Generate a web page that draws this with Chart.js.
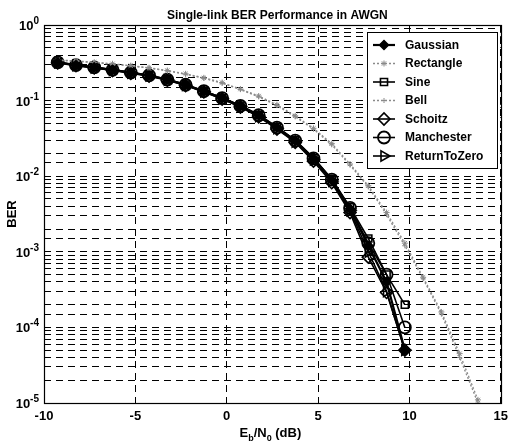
<!DOCTYPE html>
<html><head><meta charset="utf-8">
<script src="https://cdn.jsdelivr.net/npm/chart.js@4.4.0/dist/chart.umd.min.js"></script>
<style>html,body{margin:0;padding:0;background:#fff}</style>
</head><body>
<canvas id="c" width="514" height="444"></canvas>
<script>
// ---- data ----
const ebn0 = [-9.25,-8.25,-7.25,-6.25,-5.25,-4.25,-3.25,-2.25,-1.25,-0.25,0.75,1.75,2.75,3.75,4.75,5.75,6.75,7.75,8.75,9.75];
const ebn0Ext = [-9.25,-8.25,-7.25,-6.25,-5.25,-4.25,-3.25,-2.25,-1.25,-0.25,0.75,1.75,2.75,3.75,4.75,5.75,6.75,7.75,8.75,9.75,10.75,11.75,12.75,13.75];
const gaussian   = [0.32,0.295,0.275,0.255,0.235,0.215,0.19,0.162,0.133,0.108,0.085,0.064,0.044,0.0295,0.0172,0.0089,0.0037,0.0012,0.0004,0.00005];
const rectangle  = [0.345,0.335,0.322,0.307,0.29,0.272,0.25,0.226,0.2,0.173,0.142,0.115,0.088,0.063,0.043,0.027,0.0145,0.0075,0.0033,0.0013,0.00046,0.00016,0.000045,0.000011];
const sine       = [0.322,0.297,0.277,0.256,0.236,0.216,0.191,0.163,0.134,0.109,0.086,0.065,0.045,0.03,0.0175,0.0092,0.0039,0.0015,0.0005,0.0002];
const bell       = [0.34,0.33,0.318,0.303,0.287,0.269,0.247,0.223,0.197,0.17,0.14,0.112,0.086,0.061,0.042,0.026,0.014,0.0072,0.0031,0.0012,0.00044,0.00015,0.00004,0.00001];
const schoitz    = [0.315,0.29,0.27,0.25,0.23,0.21,0.186,0.158,0.13,0.105,0.082,0.061,0.042,0.028,0.0158,0.0082,0.0033,0.00085,0.00029,0.00005];
const manchester = [0.32,0.295,0.275,0.255,0.235,0.215,0.19,0.162,0.133,0.108,0.085,0.064,0.044,0.0295,0.0172,0.009,0.0038,0.0013,0.0005,0.0001];
const returnToZero = [0.318,0.293,0.273,0.253,0.233,0.213,0.188,0.16,0.131,0.106,0.083,0.062,0.043,0.0285,0.0165,0.0086,0.0035,0.001,0.0003,0.00005];
const xTicks = [-10,-5,0,5,10,15];
const yMajorExps = [0,-1,-2,-3,-4,-5];
const seriesNames = ['Gaussian','Rectangle','Sine','Bell','Schoitz','Manchester','ReturnToZero'];

const FONT = "'Liberation Sans', Arial, sans-serif";
function pts(xs, ys){ return ys.map((v,i)=>({x:xs[i], y:v})); }
const NONE = 'rgba(0,0,0,0)';
const GRAY = '#8a8a8a';

const datasets = [
  {label:seriesNames[0], data:pts(ebn0,gaussian), borderColor:'#000', borderWidth:2.2, pointStyle:'rectRot', pointRadius:4.5, pointBorderWidth:1.5, pointBorderColor:'#000', pointBackgroundColor:'#000'},
  {label:seriesNames[1], data:pts(ebn0Ext,rectangle), borderColor:GRAY, borderWidth:1.3, borderDash:[2,2], pointStyle:'star', pointRadius:3, pointBorderWidth:1, pointBorderColor:GRAY, pointBackgroundColor:NONE},
  {label:seriesNames[2], data:pts(ebn0,sine), borderColor:'#000', borderWidth:1.6, pointStyle:'rect', pointRadius:5, pointBorderWidth:1.6, pointBorderColor:'#000', pointBackgroundColor:NONE},
  {label:seriesNames[3], data:pts(ebn0Ext,bell), borderColor:GRAY, borderWidth:1.3, borderDash:[2,2], pointStyle:'cross', pointRadius:2.5, pointBorderWidth:1, pointBorderColor:GRAY, pointBackgroundColor:NONE},
  {label:seriesNames[4], data:pts(ebn0,schoitz), borderColor:'#000', borderWidth:1.6, pointStyle:'rectRot', pointRadius:6, pointBorderWidth:1.6, pointBorderColor:'#000', pointBackgroundColor:NONE},
  {label:seriesNames[5], data:pts(ebn0,manchester), borderColor:'#000', borderWidth:1.6, pointStyle:'circle', pointRadius:6, pointBorderWidth:1.8, pointBorderColor:'#000', pointBackgroundColor:NONE},
  {label:seriesNames[6], data:pts(ebn0,returnToZero), borderColor:'#000', borderWidth:1.6, pointStyle:'triangle', pointRotation:90, pointRadius:6, pointBorderWidth:1.6, pointBorderColor:'#000', pointBackgroundColor:NONE}
];
datasets.forEach(d=>{d.tension=0; d.fill=false; d.showLine=true;});

function drawMarker(ctx, ds, x, y){
  const opts = {pointStyle: ds.pointStyle, rotation: ds.pointRotation||0, radius: ds.pointRadius, borderWidth: ds.pointBorderWidth};
  ctx.save();
  ctx.strokeStyle = ds.pointBorderColor; ctx.fillStyle = ds.pointBackgroundColor; ctx.lineWidth = ds.pointBorderWidth;
  ctx.setLineDash([]);
  Chart.helpers.drawPoint(ctx, opts, x, y);
  ctx.restore();
}

const decor = {
  id:'decor',
  afterDraw(chart){
    const ctx = chart.ctx, a = chart.chartArea;
    ctx.save();
    // frame
    ctx.strokeStyle = '#000'; ctx.lineWidth = 1.2; ctx.setLineDash([]);
    ctx.strokeRect(Math.round(a.left)+0.5, Math.round(a.top)+0.5, Math.round(a.right-a.left), Math.round(a.bottom-a.top));
    // title
    ctx.fillStyle = '#000';
    ctx.font = 'bold 12px ' + FONT; ctx.textAlign = 'center'; ctx.textBaseline = 'alphabetic';
    ctx.fillText('Single-link BER Performance in AWGN', (a.left + a.right)/2 + 5, 19);
    // y tick labels: 10 with superscript exponent
    const ys = chart.scales.y;
    yMajorExps.forEach(e=>{
      const py = ys.getPixelForValue(Math.pow(10, e));
      const exp = String(e);
      ctx.font = 'bold 10px ' + FONT;
      const ew = ctx.measureText(exp).width;
      const right = a.left - 5;
      ctx.textAlign = 'right'; ctx.textBaseline = 'alphabetic';
      ctx.fillText(exp, right, py - 1);
      ctx.font = 'bold 13px ' + FONT;
      ctx.fillText('10', right - ew, py + 5);
    });
    // x-axis title with subscripts
    const parts = [['E',13,0],['b',9,4],['/N',13,0],['0',9,4],[' (dB)',13,0]];
    let w = 0;
    parts.forEach(p=>{ctx.font='bold '+p[1]+'px '+FONT; w += ctx.measureText(p[0]).width;});
    let x = (a.left + a.right)/2 - w/2 - 2;
    ctx.textAlign = 'left';
    parts.forEach(p=>{ctx.font='bold '+p[1]+'px '+FONT; ctx.fillText(p[0], x, 437 + p[2]); x += ctx.measureText(p[0]).width;});
    // legend
    const L = 367.5, T = 32.5, W = 130, H = 136;
    ctx.fillStyle = '#fff'; ctx.fillRect(L, T, W, H);
    ctx.strokeStyle = '#000'; ctx.lineWidth = 1; ctx.strokeRect(L, T, W, H);
    chart.data.datasets.forEach((ds,i)=>{
      const y = 45 + i*18.5;
      ctx.save();
      ctx.strokeStyle = ds.borderColor; ctx.lineWidth = ds.borderWidth;
      ctx.setLineDash(ds.borderDash || []);
      ctx.beginPath(); ctx.moveTo(373, y); ctx.lineTo(395, y); ctx.stroke();
      ctx.restore();
      drawMarker(ctx, ds, 384, y);
      ctx.fillStyle = '#000'; ctx.font = 'bold 12px ' + FONT; ctx.textAlign='left'; ctx.textBaseline='middle';
      ctx.fillText(ds.label, 405, y + 0.5);
    });
    ctx.restore();
  }
};

new Chart(document.getElementById('c'), {
  type:'line',
  data:{datasets},
  plugins:[decor],
  options:{
    responsive:false, animation:false,
    layout:{padding:{top:25,right:7,left:0,bottom:0}},
    plugins:{legend:{display:false}, title:{display:false}, tooltip:{enabled:false}},
    scales:{
      x:{type:'linear', min:-10, max:15,
        afterBuildTicks(s){ s.ticks = xTicks.map(v=>({value:v})); },
        ticks:{font:{family:FONT,size:13,weight:'bold'}, color:'#000', padding:6, maxRotation:0},
        grid:{color:'#000', lineWidth:1, drawTicks:false},
        border:{display:false, dash:[7,5]},
        afterFit(s){ s.height = 41; }
      },
      y:{type:'logarithmic', min:1e-5, max:1,
        ticks:{autoSkip:false, font:{family:FONT,size:13,weight:'bold'}, color:NONE, padding:6,
          callback(){ return ''; }
        },
        grid:{color:'#000', lineWidth:1, drawTicks:false},
        border:{display:false, dash:[7,5]},
        title:{display:true, text:'BER', font:{family:FONT,size:13,weight:'bold'}, color:'#000', padding:{top:5,bottom:0}},
        afterFit(s){ s.width = 44; }
      }
    }
  }
});
</script>
</body></html>
